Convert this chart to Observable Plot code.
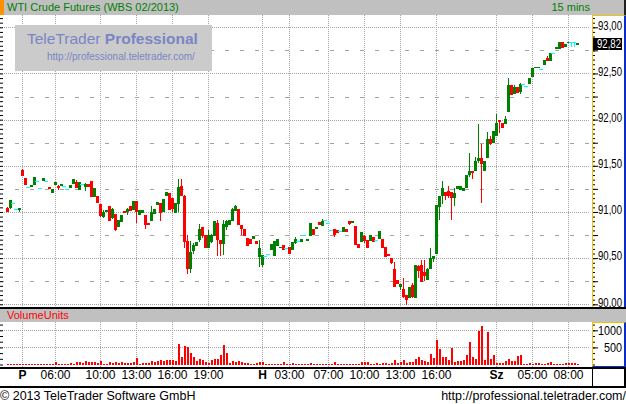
<!DOCTYPE html>
<html><head><meta charset="utf-8">
<script src="https://cdn.jsdelivr.net/npm/d3@7"></script>
<script src="https://cdn.jsdelivr.net/npm/@observablehq/plot@0.6"></script>
<style>
html,body{margin:0;padding:0;background:#fff;}
#chart{position:relative;width:626px;height:404px;overflow:hidden;font-family:"Liberation Sans",Arial,sans-serif;}
#chart div{position:absolute;box-sizing:border-box;white-space:nowrap;}
#chart svg{position:absolute;}
</style></head><body><div id="chart"></div>
<script>
// ---------------- data ----------------
const title = "WTI Crude Futures (WBS 02/2013)";
const intervalLabel = "15 mins";
const volumeTitle = "VolumeUnits";
const watermarkMain = "TeleTrader ";
const watermarkBold = "Professional";
const watermarkUrl = "http://professional.teletrader.com/";
const footerLeft = "© 2013 TeleTrader Software GmbH";
const footerRight = "http://professional.teletrader.com/";
const lastPrice = 92.82;

const opens = [
91.04,91.05,91.10,91.03,91.03,91.45,91.36,91.27,91.28,91.30,
91.33,91.26,91.34,91.33,91.27,91.21,91.30,91.28,91.29,91.28,
91.25,91.26,91.31,91.32,91.24,91.30,91.28,91.30,91.33,91.17,
91.17,91.08,90.95,91.00,91.06,90.94,90.97,90.84,90.90,91.00,
91.00,91.06,91.03,91.11,90.97,90.99,90.96,90.87,90.91,90.98,
91.08,91.09,91.00,91.18,91.20,91.15,90.99,91.09,91.28,91.17,
90.68,90.39,90.58,90.64,90.70,90.83,90.74,90.61,90.68,90.75,
90.87,90.69,90.66,90.84,90.86,90.91,91.02,91.03,90.85,90.81,
90.71,90.70,90.71,90.68,90.52,90.43,90.52,90.55,90.59,90.53,
90.64,90.61,90.64,90.61,90.61,90.59,90.67,90.69,90.68,90.75,
90.69,90.74,90.81,90.82,90.89,90.85,90.91,90.88,90.81,90.81,
90.80,90.79,90.79,90.81,90.90,90.89,90.84,90.65,90.68,90.73,
90.69,90.69,90.72,90.70,90.71,90.70,90.62,90.54,90.50,90.38,
90.26,90.19,90.16,90.10,90.07,90.20,90.07,90.41,90.42,90.34,
90.27,90.39,90.50,90.55,91.06,91.18,91.21,91.22,91.21,91.16,
91.25,91.24,91.23,91.27,91.41,91.44,91.45,91.56,91.58,91.45,
91.59,91.78,91.75,91.83,91.99,91.96,91.96,92.09,92.37,92.28,
92.35,92.31,92.39,92.36,92.39,92.47,92.56,92.56,92.55,92.60,
92.66,92.64,92.72,92.77,92.77,92.83,92.79,92.83,92.84,92.84,
92.81];
const highs = [
91.05,91.13,91.10,91.03,91.04,91.46,91.37,91.27,91.29,91.38,
91.33,91.26,91.37,91.33,91.27,91.24,91.32,91.29,91.30,91.28,
91.25,91.29,91.35,91.35,91.32,91.30,91.31,91.30,91.34,91.25,
91.17,91.08,91.02,91.02,91.07,91.04,90.97,90.91,90.96,91.00,
91.04,91.06,91.11,91.11,91.02,91.02,90.96,90.87,91.06,91.03,
91.10,91.09,91.14,91.21,91.20,91.15,91.09,91.36,91.36,91.18,
90.75,90.69,90.66,90.67,90.87,90.84,90.74,90.81,90.76,90.90,
90.91,90.69,90.91,90.91,90.91,91.04,91.08,91.03,90.85,90.81,
90.71,90.70,90.73,90.68,90.70,90.53,90.52,90.55,90.65,90.68,
90.70,90.62,90.64,90.61,90.61,90.67,90.73,90.69,90.70,90.75,
90.70,90.88,90.81,90.83,90.89,90.92,90.91,90.88,90.81,90.81,
90.80,90.79,90.83,90.81,90.90,90.90,90.84,90.65,90.78,90.75,
90.69,90.75,90.72,90.70,90.79,90.70,90.62,90.54,90.50,90.46,
90.26,90.21,90.28,90.10,90.18,90.23,90.42,90.43,90.48,90.48,
90.39,90.61,90.52,91.07,91.17,91.33,91.21,91.28,91.21,91.26,
91.28,91.28,91.25,91.39,91.64,91.44,91.60,91.95,91.74,91.55,
91.87,91.82,91.87,92.06,91.99,91.96,92.04,92.45,92.37,92.38,
92.35,92.40,92.39,92.36,92.45,92.55,92.57,92.57,92.55,92.64,
92.69,92.72,92.72,92.78,92.83,92.83,92.81,92.84,92.84,92.84,
92.83];
const lows = [
91.00,91.03,91.10,91.03,91.00,91.39,91.30,91.27,91.28,91.30,
91.33,91.26,91.34,91.33,91.25,91.21,91.30,91.24,91.29,91.28,
91.25,91.26,91.31,91.27,91.24,91.30,91.23,91.28,91.17,91.17,
91.10,90.95,90.94,91.00,90.91,90.92,90.79,90.84,90.90,90.99,
90.97,91.02,91.03,90.88,90.97,90.99,90.82,90.86,90.90,90.98,
91.08,90.90,91.00,91.18,91.03,91.00,90.99,91.00,91.18,90.61,
90.33,90.34,90.55,90.64,90.68,90.72,90.62,90.61,90.66,90.75,
90.52,90.52,90.53,90.80,90.86,90.91,91.02,90.86,90.75,90.74,
90.64,90.66,90.71,90.66,90.40,90.40,90.52,90.55,90.59,90.53,
90.64,90.61,90.59,90.61,90.55,90.59,90.65,90.69,90.68,90.75,
90.69,90.74,90.76,90.82,90.86,90.85,90.91,90.88,90.81,90.73,
90.78,90.79,90.79,90.79,90.86,90.89,90.65,90.62,90.68,90.66,
90.62,90.69,90.68,90.70,90.71,90.61,90.52,90.53,90.44,90.19,
90.22,90.16,90.07,89.99,90.07,90.07,90.07,90.29,90.25,90.25,
90.27,90.39,90.46,90.55,90.91,91.09,91.13,91.15,90.91,91.07,
91.25,91.24,91.23,91.27,91.38,91.36,91.45,91.53,91.10,91.45,
91.59,91.72,91.75,91.82,91.86,91.92,91.96,92.09,92.27,92.28,
92.29,92.28,92.39,92.36,92.39,92.47,92.56,92.56,92.55,92.60,
92.64,92.64,92.72,92.77,92.77,92.78,92.79,92.83,92.79,92.79,
92.81];
const closes = [
91.00,91.12,91.10,91.03,91.04,91.40,91.30,91.27,91.29,91.37,
91.33,91.26,91.36,91.33,91.25,91.24,91.32,91.26,91.30,91.28,
91.25,91.29,91.35,91.27,91.32,91.30,91.30,91.28,91.17,91.25,
91.10,90.96,90.99,91.02,90.91,91.03,90.81,90.91,90.96,90.99,
91.03,91.02,91.11,91.00,91.02,91.02,90.86,90.86,90.99,91.03,
91.10,90.99,91.14,91.21,91.03,91.04,91.09,91.26,91.18,90.68,
90.39,90.56,90.64,90.67,90.81,90.75,90.62,90.75,90.75,90.90,
90.70,90.66,90.86,90.90,90.91,91.03,91.06,90.86,90.82,90.74,
90.64,90.66,90.73,90.66,90.60,90.53,90.52,90.55,90.65,90.68,
90.70,90.62,90.59,90.61,90.55,90.67,90.70,90.69,90.70,90.75,
90.70,90.87,90.76,90.83,90.86,90.90,90.91,90.88,90.81,90.76,
90.78,90.79,90.83,90.79,90.88,90.90,90.65,90.62,90.78,90.69,
90.62,90.75,90.68,90.70,90.79,90.61,90.52,90.53,90.45,90.19,
90.22,90.21,90.08,90.05,90.18,90.08,90.42,90.37,90.25,90.31,
90.38,90.50,90.52,91.07,91.17,91.25,91.18,91.18,91.16,91.20,
91.28,91.28,91.25,91.39,91.44,91.43,91.55,91.58,91.53,91.55,
91.78,91.74,91.87,91.96,91.98,91.92,92.00,92.37,92.27,92.35,
92.29,92.38,92.39,92.36,92.45,92.55,92.57,92.57,92.55,92.64,
92.64,92.72,92.72,92.78,92.83,92.78,92.81,92.84,92.84,92.84,
92.82];
const volumes = [
20,20,20,20,20,20,20,20,20,20,
20,20,20,20,20,20,78,20,20,25,
25,50,25,60,78,30,107,60,60,60,
30,98,25,25,78,30,60,30,60,30,
30,30,60,195,25,30,50,50,107,68,
88,137,117,137,137,137,98,605,205,546,
517,341,234,88,166,137,78,40,137,166,
166,283,575,341,50,98,78,107,78,50,
50,25,25,40,60,68,20,20,20,20,
20,20,60,20,20,50,20,20,20,20,
20,50,20,20,20,20,20,20,20,60,
20,20,20,20,20,20,20,20,60,60,
60,20,20,50,20,50,50,20,50,137,
40,70,137,50,78,78,156,224,127,107,
78,312,195,721,458,224,224,137,487,78,
107,107,137,283,663,224,166,985,1131,137,
956,166,283,50,50,50,107,166,107,107,
253,283,20,20,50,20,50,50,20,20,
50,78,20,20,20,20,50,50,50,50,
20];

// x-axis ticks: candle index and label
const tickIndex  = [5, 16, 31, 43, 55, 67, 85, 94, 107, 119, 131, 143, 163, 175, 187];
const tickLabels = ["P","06:00","10:00","13:00","16:00","19:00","H","03:00","07:00","10:00","13:00","16:00","Sz","05:00","08:00"];
const dayLabels = ["P","H","Sz"];
const priceLabels = [90, 90.5, 91, 91.5, 92, 92.5, 93];
const priceQuarterLines = [90.25, 90.75, 91.25, 91.75, 92.25, 92.75];
const priceQuarterTicks = [90, 90.25, 90.5, 90.75, 91, 91.25, 91.5, 91.75, 92, 92.25, 92.5, 92.75, 93, 93.25];
const volumeLabels = [500, 1000];
const volumeMinorTicks = [0, 166.7, 333.3, 500, 666.7, 833.3, 1000, 1166.7];

// ---------------- build ----------------
const chart = document.getElementById("chart");
function div(css, text) {
  const d = document.createElement("div");
  d.style.cssText = css;
  if (text != null) d.textContent = text;
  chart.appendChild(d);
  return d;
}
const fmt = d => d.toFixed(2).replace(".", ",");
const minorPriceTicks = d3.range(1799, 1866).map(k => +(k * 0.05).toFixed(2));

const candles = opens.map((o, i) => ({
  i, o, h: highs[i], l: lows[i], c: closes[i],
  col: closes[i] > o ? "#008000" : closes[i] < o ? "#ff0000" : "#00ffff"
}));
const bodies = candles.filter(d => d.o !== d.c);
const flats = candles.filter(d => d.o === d.c);
const vols = volumes.slice(0, candles.length).map((v, i) => ({i, v}));
const xTicks = tickIndex.map((i, k) => ({i, label: tickLabels[k], day: dayLabels.includes(tickLabels[k])}));

const xDomain = [-7 / 3, 583 / 3];
const gridColor = "#a4a4a4";
const labelFont = "'Liberation Sans',Arial,sans-serif";

// right-hand axis labels, placed with the plot's own y scale and squeezed
// horizontally (the original uses a narrow bitmap font)
function axisLabels(svg, values, format, sx, dy) {
  const y = svg.scale("y");
  d3.select(svg).append("g")
    .attr("font-family", labelFont).attr("font-size", 12).attr("text-anchor", "end").attr("fill", "#000")
    .selectAll("text").data(values).join("text")
    .attr("transform", d => `translate(622,${y.apply(d) + dy}) scale(${sx},1)`)
    .attr("dy", "0.35em")
    .text(format);
}

// axis boxes (under the svgs)
div("left:592px;top:15px;width:34px;height:293px;border-left:1px solid #f5c400;border-top:1px solid #f5c400;border-right:2px solid #0a2cc8;border-bottom:1px solid #0a2cc8;background:#fff;");
div("left:592px;top:322px;width:34px;height:45px;border-left:1px solid #f5c400;border-top:1px solid #f5c400;border-right:2px solid #0a2cc8;border-bottom:1px solid #0a2cc8;background:#fff;");

// price panel
const pricePlot = Plot.plot({
  width: 626, height: 292,
  marginLeft: 0, marginRight: 36, marginTop: 0, marginBottom: 0,
  style: {background: "transparent", fontFamily: "Liberation Sans", fontSize: "12px", overflow: "visible"},
  x: {domain: xDomain, axis: null},
  y: {domain: [89.9708, 93.1332], axis: null},
  color: {type: "identity"},
  marks: [
    Plot.ruleY(priceQuarterLines, {stroke: gridColor, strokeDasharray: "4,11", shapeRendering: "crispEdges"}),
    Plot.ruleY(priceLabels, {stroke: gridColor, strokeDasharray: "1,1", shapeRendering: "crispEdges"}),
    Plot.ruleX(tickIndex, {stroke: gridColor, strokeDasharray: "1,1", shapeRendering: "crispEdges"}),
    Plot.ruleX(candles, {x: "i", y1: "l", y2: "h", stroke: "col", shapeRendering: "crispEdges"}),
    Plot.rect(bodies, {x1: d => d.i - 0.5, x2: d => d.i + 0.5, y1: "o", y2: "c", fill: "col", insetTop: -0.5, insetBottom: -0.5, shapeRendering: "crispEdges"}),
    Plot.ruleY(flats, {y: "c", x1: d => d.i - 0.6, x2: d => d.i + 0.6, stroke: "col", shapeRendering: "crispEdges"}),
    Plot.axisY({anchor: "left", ticks: minorPriceTicks, tickSize: 3, dx: 3, tickFormat: () => "", label: null}),
    Plot.axisY({anchor: "right", ticks: minorPriceTicks, tickSize: 2, dx: 2, tickFormat: () => "", label: null}),
    Plot.axisY({anchor: "right", ticks: priceQuarterTicks, tickSize: 5, dx: 2, tickFormat: () => "", label: null})
  ]
});
pricePlot.style.left = "0px"; pricePlot.style.top = "15px";
chart.appendChild(pricePlot);
axisLabels(pricePlot, priceLabels, fmt, 0.8, -2);
{
  const yy = pricePlot.scale("y").apply(lastPrice);
  d3.select(pricePlot).append("rect").attr("x", 593).attr("y", Math.round(yy) - 6).attr("width", 29).attr("height", 12).attr("fill", "#000");
  d3.select(pricePlot).append("text")
    .attr("transform", `translate(621,${yy}) scale(0.8,1)`).attr("dy", "0.35em").attr("text-anchor", "end")
    .attr("fill", "#fff").attr("font-family", labelFont).attr("font-size", 12).text(fmt(lastPrice));
}

// volume panel + x axis labels
const volPlot = Plot.plot({
  width: 626, height: 65,
  marginLeft: 0, marginRight: 36, marginTop: 0, marginBottom: 20,
  style: {background: "transparent", fontFamily: "Liberation Sans", fontSize: "12px", overflow: "visible"},
  x: {domain: xDomain, axis: null},
  y: {domain: [-73, 1243], axis: null},
  marks: [
    Plot.ruleY(volumeLabels, {stroke: gridColor, strokeDasharray: "1,1", shapeRendering: "crispEdges"}),
    Plot.ruleX(tickIndex, {stroke: gridColor, strokeDasharray: "1,1", shapeRendering: "crispEdges"}),
    Plot.ruleX(vols, {x: "i", y1: 0, y2: "v", stroke: "#ff0000", strokeWidth: 2, shapeRendering: "crispEdges"}),
    Plot.axisY({anchor: "left", ticks: volumeMinorTicks, tickSize: 3, dx: 3, tickFormat: () => "", label: null}),
    Plot.axisY({anchor: "right", ticks: volumeMinorTicks, tickSize: 2, dx: 2, tickFormat: () => "", label: null}),
    Plot.axisY({anchor: "right", ticks: volumeLabels, tickSize: 5, dx: 2, tickFormat: () => "", label: null}),
    Plot.text(xTicks.filter(d => !d.day), {x: "i", text: "label", frameAnchor: "bottom", dy: 11.5, fontSize: 12, fill: "#000"}),
    Plot.text(xTicks.filter(d => d.day), {x: "i", text: "label", frameAnchor: "bottom", dy: 11.5, fontSize: 12, fontWeight: "bold", fill: "#000"})
  ]
});
volPlot.style.left = "0px"; volPlot.style.top = "322px";
chart.appendChild(volPlot);
axisLabels(volPlot, volumeLabels, d => String(d), 0.9, 0);

// header bars and separators
div("left:0;top:0;width:626px;height:15px;background:#c0c0c0;border-right:2px solid #202020;");
div("left:0;top:0;width:4px;height:15px;background:#ff9000;");
div("left:7px;top:0;height:15px;line-height:15px;font-size:11px;color:#008000;", title);
div("right:36px;top:0;height:15px;line-height:15px;font-size:11px;color:#008000;", intervalLabel);
div("left:0;top:307px;width:626px;height:2px;background:#000;");
div("left:0;top:309px;width:626px;height:13px;background:#c0c0c0;");
div("left:7px;top:309px;height:13px;line-height:13px;font-size:11px;color:#ff0000;", volumeTitle);
div("left:0;top:367px;width:626px;height:2px;background:#000;");
div("left:592px;top:369px;width:34px;height:18px;border-left:1px solid #000;border-right:2px solid #000;");
div("left:0;top:386px;width:626px;height:2px;background:#000;");
div("left:0;top:388px;height:16px;line-height:16px;font-size:12.5px;color:#000;", footerLeft);
div("right:0;top:388px;height:16px;line-height:16px;font-size:12.5px;color:#000;", footerRight);

// watermark
const wm = div("left:15px;top:25px;width:197px;height:46px;background:#cbcbcb;");
const wmText = document.createElement("div");
wmText.style.cssText = "left:12px;top:5px;font-size:15.5px;line-height:18px;color:#7a86c4;";
wmText.appendChild(document.createTextNode(watermarkMain));
const b = document.createElement("b"); b.textContent = watermarkBold; wmText.appendChild(b);
wm.appendChild(wmText);
const wmUrl = document.createElement("div");
wmUrl.style.cssText = "left:32px;top:26px;font-size:10px;line-height:12px;color:#7a86c4;";
wmUrl.textContent = watermarkUrl;
wm.appendChild(wmUrl);
</script></body></html>
